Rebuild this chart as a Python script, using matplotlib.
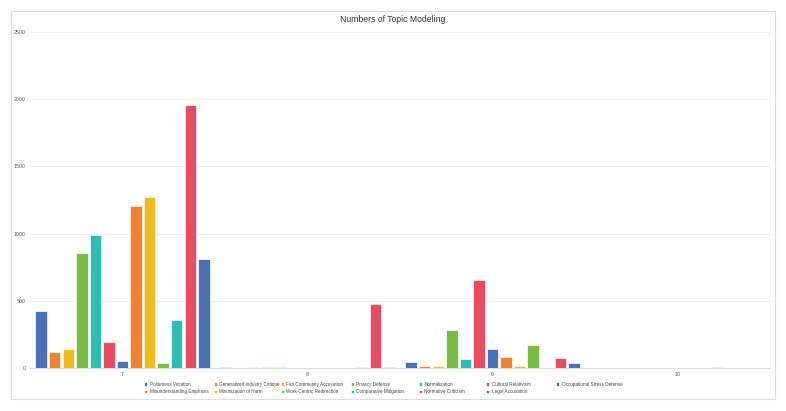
import matplotlib
matplotlib.use("Agg")
import matplotlib.pyplot as plt
import numpy as np
from matplotlib.patches import Rectangle

plt.rcParams['font.family'] = ['Liberation Sans', 'DejaVu Sans']

groups = ["7", "8", "9", "10"]
series = [
    "Politeness Violation", "Generalized Industry Critique", "Fan Community Accusation",
    "Privacy Defense", "Normalization", "Cultural Relativism", "Occupational Stress Defense",
    "Misunderstanding Emphasis", "Minimization of Harm", "Work-Centric Redirection",
    "Comparative Mitigation", "Normative Criticism", "Legal Accusation",
]
# values[series][group]
politeness_violation = [427, 4, 42, 0]
generalized_industry_critique = [120, 0, 17, 0]
fan_community_accusation = [138, 4, 12, 0]
privacy_defense = [858, 4, 283, 0]
normalization = [987, 5, 67, 0]
cultural_relativism = [190, 0, 655, 0]
occupational_stress_defense = [49, 0, 141, 0]
misunderstanding_emphasis = [1206, 0, 82, 0]
minimization_of_harm = [1276, 0, 17, 0]
work_centric_redirection = [35, 0, 168, 4]
comparative_mitigation = [358, 5, 3, 0]
normative_criticism = [1955, 476, 78, 0]
legal_accusation = [813, 4, 37, 0]

values = [politeness_violation, generalized_industry_critique, fan_community_accusation,
          privacy_defense, normalization, cultural_relativism, occupational_stress_defense,
          misunderstanding_emphasis, minimization_of_harm, work_centric_redirection,
          comparative_mitigation, normative_criticism, legal_accusation]

palette = ["#4A70B8", "#F0832F", "#F4B91C", "#79BD42", "#2CBFB1", "#E84B63"]
colors = [palette[i % 6] for i in range(len(series))]

W, H = 786, 411
fig = plt.figure(figsize=(W / 100, H / 100), dpi=100)
ax = fig.add_axes([30 / W, (H - 368) / H, 740 / W, 336 / H])

n = len(series)
span = 0.953
slot = span / n
x = np.arange(len(groups))
handles = []
for i, (name, vals) in enumerate(zip(series, values)):
    pos = x - span / 2 + slot * (i + 0.5)
    b = ax.bar(pos, vals, width=slot * 0.84, color=colors[i], edgecolor="white",
               linewidth=0.5, label=name, zorder=3)
    handles.append(b)

ax.set_xlim(-0.5, len(groups) - 0.5)
ax.set_ylim(0, 2500)
ax.set_yticks([0, 500, 1000, 1500, 2000, 2500])
ax.set_xticks(x)
ax.set_xticklabels(groups)
ax.tick_params(axis="both", length=0, labelsize=3.8, colors="#555555")
ax.tick_params(axis="y", pad=3)
ax.tick_params(axis="x", pad=3)
ax.grid(axis="y", color="#ebebeb", linewidth=0.6, zorder=0)
for s in ["top", "right", "left"]:
    ax.spines[s].set_visible(False)
ax.spines["bottom"].set_color("#d9dee5")
ax.spines["bottom"].set_linewidth(0.7)

fig.text(393 / W, 1 - 19 / H, "Numbers of Topic Modeling", ha="center", va="center",
         fontsize=6.2, color="#333333")

# outer frame
fig.patches.append(Rectangle((11 / W, (H - 399) / H), 764 / W, 388 / H,
                             transform=fig.transFigure, fill=False,
                             edgecolor="#dddddd", linewidth=0.8))

col_x = [144, 213.5, 281, 351, 419, 486, 556]
for c in range(7):
    idx = [c] + ([c + 7] if c + 7 < n else [])
    fig.legend([handles[k] for k in idx], [series[k] for k in idx],
               loc="upper left", bbox_to_anchor=(col_x[c] / W, 1 - 381.5 / H),
               frameon=False, fontsize=3.3, handlelength=0.7, handleheight=0.7,
               handletextpad=0.5, borderpad=0, borderaxespad=0, labelspacing=0.65,
               labelcolor="#444444")

fig.savefig("out.png", dpi=100)
